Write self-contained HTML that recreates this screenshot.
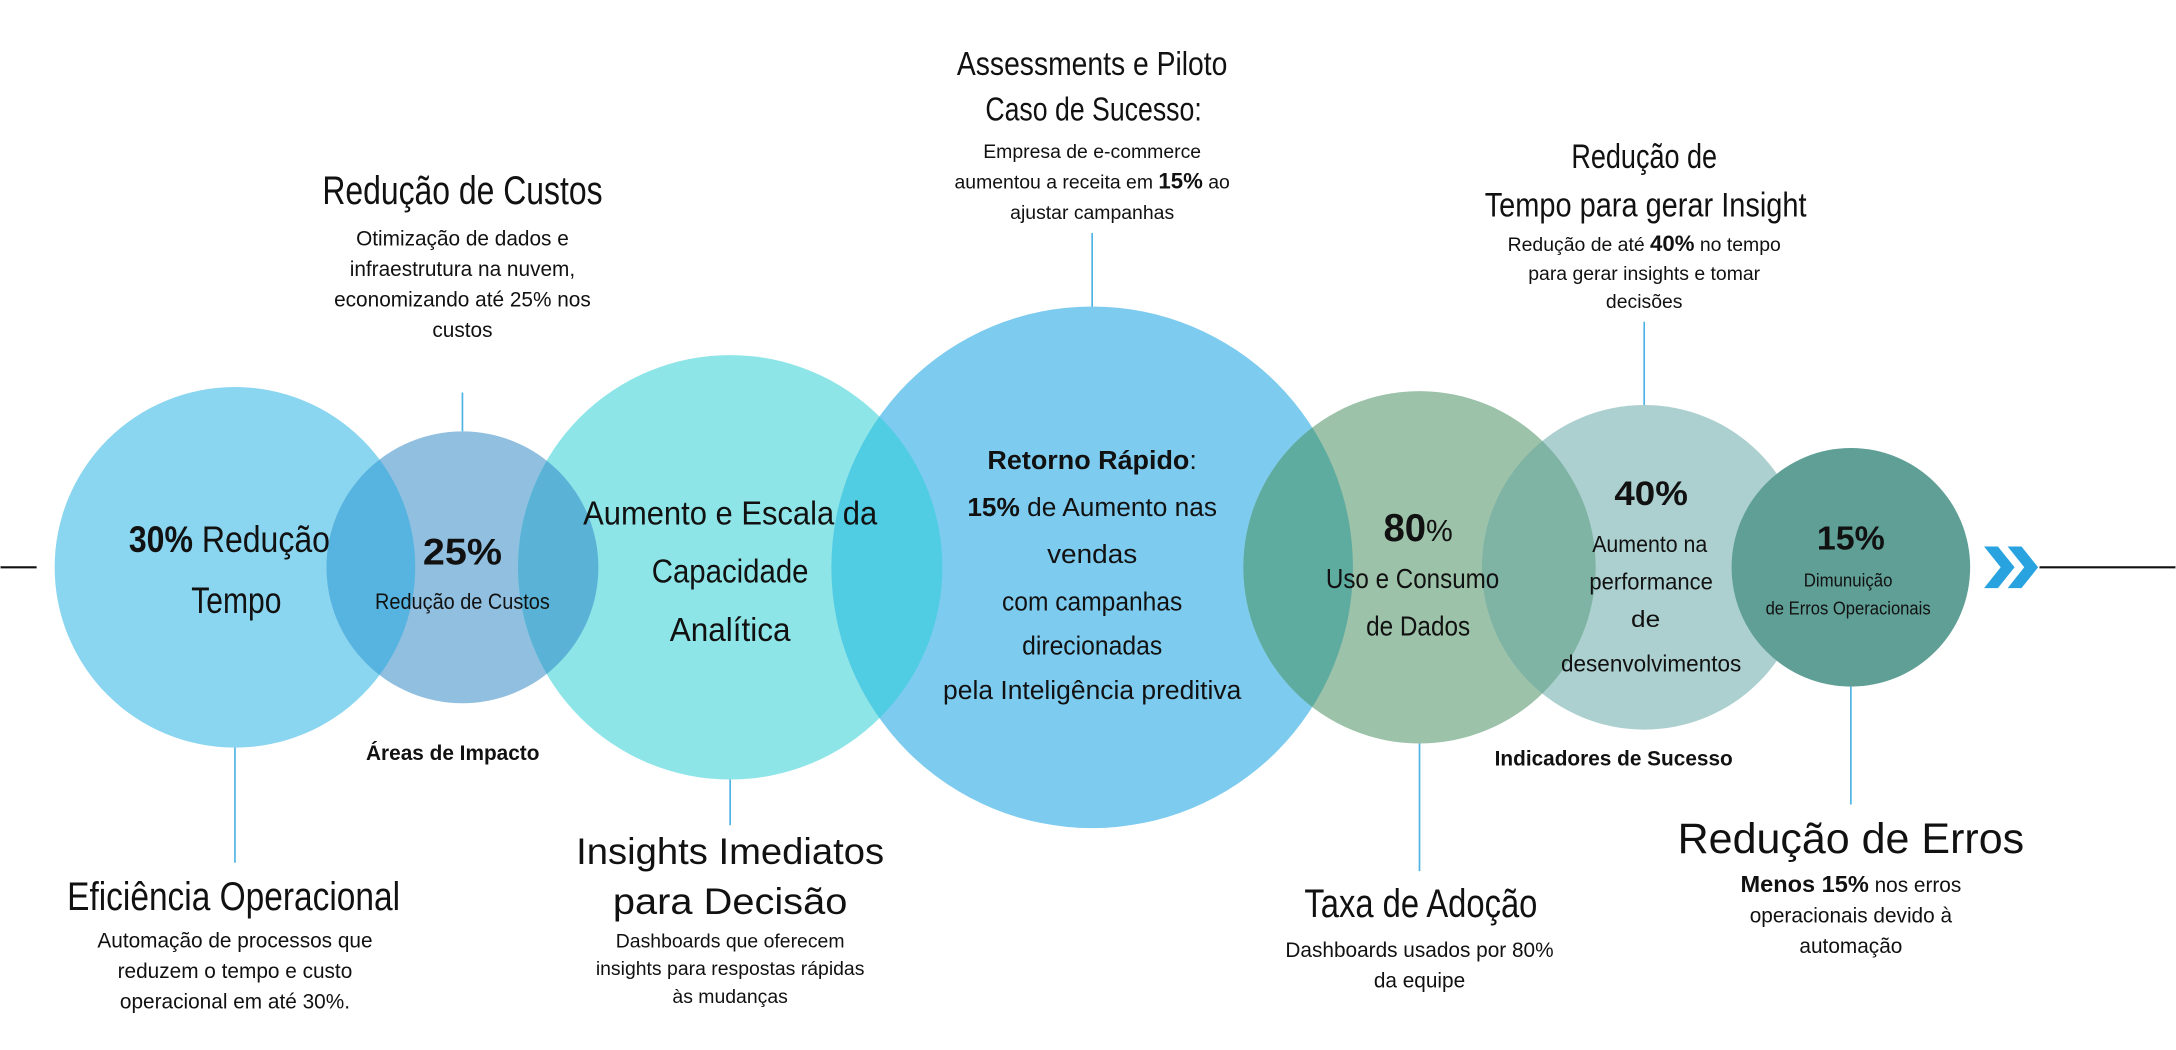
<!DOCTYPE html>
<html><head><meta charset="utf-8"><style>
html,body{margin:0;padding:0;background:#fff;width:2176px;height:1050px;overflow:hidden}
svg{display:block}
.t{font-family:"Liberation Sans",sans-serif;fill:#111}
.s{font-family:"Liberation Sans",sans-serif;fill:#111}
</style></head><body>
<svg width="2176" height="1050" viewBox="0 0 1568 757" xmlns="http://www.w3.org/2000/svg">
<defs>
<clipPath id="k1"><circle cx="169" cy="409" r="130"/></clipPath>
<clipPath id="k2"><circle cx="333" cy="409" r="98"/></clipPath>
<clipPath id="k3"><circle cx="526" cy="409" r="153"/></clipPath>
<clipPath id="k4"><circle cx="787" cy="409" r="188"/></clipPath>
<clipPath id="k5"><circle cx="1023" cy="409" r="127"/></clipPath>
<clipPath id="k6"><circle cx="1185" cy="409" r="117"/></clipPath>
</defs>
<line x1="0" y1="409" x2="26" y2="409" stroke="#111" stroke-width="1.5"/>
<line x1="1470" y1="409" x2="1568" y2="409" stroke="#111" stroke-width="1.5"/>
<g stroke="#4db3e3" stroke-width="1.2">
<line x1="333" y1="283" x2="333" y2="311"/>
<line x1="169" y1="539" x2="169" y2="622"/>
<line x1="526" y1="562" x2="526" y2="595"/>
<line x1="787" y1="168" x2="787" y2="221"/>
<line x1="1185" y1="232" x2="1185" y2="292"/>
<line x1="1023" y1="536" x2="1023" y2="628"/>
<line x1="1334" y1="495" x2="1334" y2="580"/>
</g>
<circle cx="169" cy="409" r="130" fill="#8ad5f0"/>
<circle cx="333" cy="409" r="98" fill="#91bfe0"/>
<circle cx="526" cy="409" r="153" fill="#8ee5e8"/>
<circle cx="787" cy="409" r="188" fill="#7dcbee"/>
<circle cx="1023" cy="409" r="127" fill="#9cc2a9"/>
<circle cx="1185" cy="409" r="117" fill="#acd0cf"/>
<circle cx="333" cy="409" r="98" fill="#57b4e0" clip-path="url(#k1)"/>
<circle cx="526" cy="409" r="153" fill="#5ab3d6" clip-path="url(#k2)"/>
<circle cx="787" cy="409" r="188" fill="#50cde3" clip-path="url(#k3)"/>
<circle cx="1023" cy="409" r="127" fill="#5eab9f" clip-path="url(#k4)"/>
<circle cx="1185" cy="409" r="117" fill="#7fb3a3" clip-path="url(#k5)"/>
<circle cx="1334" cy="409" r="86" fill="#5f9f96"/>
<g fill="#29a3e0">
<polygon points="1430,394 1440,394 1452,409 1440,424 1430,424 1442,409"/>
<polygon points="1447,394 1457,394 1469,409 1457,424 1447,424 1459,409"/>
</g>
<!-- circle texts -->
<text class="t" x="165" y="398" font-size="27" text-anchor="middle" textLength="145" lengthAdjust="spacingAndGlyphs"><tspan font-weight="bold">30%</tspan> Redução</text>
<text class="t" x="170" y="442" font-size="27" text-anchor="middle" textLength="65" lengthAdjust="spacingAndGlyphs">Tempo</text>
<text class="t" x="333" y="407" font-size="27" font-weight="bold" text-anchor="middle" textLength="57" lengthAdjust="spacingAndGlyphs">25%</text>
<text class="t" x="333" y="439" font-size="16" text-anchor="middle" textLength="126" lengthAdjust="spacingAndGlyphs">Redução de Custos</text>
<text class="t" x="526" y="378" font-size="24" text-anchor="middle" textLength="212" lengthAdjust="spacingAndGlyphs">Aumento e Escala da</text>
<text class="t" x="526" y="420" font-size="24" text-anchor="middle" textLength="113" lengthAdjust="spacingAndGlyphs">Capacidade</text>
<text class="t" x="526" y="462" font-size="24" text-anchor="middle" textLength="87" lengthAdjust="spacingAndGlyphs">Analítica</text>
<text class="t" x="787" y="338" font-size="19" font-weight="bold" text-anchor="middle" textLength="151" lengthAdjust="spacingAndGlyphs">Retorno Rápido<tspan font-weight="normal">:</tspan></text>
<text class="t" x="787" y="372" font-size="19" text-anchor="middle" textLength="180" lengthAdjust="spacingAndGlyphs"><tspan font-weight="bold">15%</tspan> de Aumento nas</text>
<text class="t" x="787" y="406" font-size="19" text-anchor="middle" textLength="65" lengthAdjust="spacingAndGlyphs">vendas</text>
<text class="t" x="787" y="440" font-size="19" text-anchor="middle" textLength="130" lengthAdjust="spacingAndGlyphs">com campanhas</text>
<text class="t" x="787" y="472" font-size="19" text-anchor="middle" textLength="101" lengthAdjust="spacingAndGlyphs">direcionadas</text>
<text class="t" x="787" y="504" font-size="19" text-anchor="middle" textLength="215" lengthAdjust="spacingAndGlyphs">pela Inteligência preditiva</text>
<text class="t" x="1022" y="390" font-size="28" font-weight="bold" text-anchor="middle" textLength="50" lengthAdjust="spacingAndGlyphs">80<tspan font-weight="normal" font-size="22">%</tspan></text>
<text class="t" x="1018" y="424" font-size="20" text-anchor="middle" textLength="125" lengthAdjust="spacingAndGlyphs">Uso e Consumo</text>
<text class="t" x="1022" y="458" font-size="20" text-anchor="middle" textLength="75" lengthAdjust="spacingAndGlyphs">de Dados</text>
<text class="t" x="1190" y="364" font-size="25" font-weight="bold" text-anchor="middle" textLength="53" lengthAdjust="spacingAndGlyphs">40%</text>
<text class="t" x="1189" y="398" font-size="17" text-anchor="middle" textLength="83" lengthAdjust="spacingAndGlyphs">Aumento na</text>
<text class="t" x="1190" y="425" font-size="17" text-anchor="middle" textLength="89" lengthAdjust="spacingAndGlyphs">performance</text>
<text class="t" x="1186" y="452" font-size="17" text-anchor="middle" textLength="21" lengthAdjust="spacingAndGlyphs">de</text>
<text class="t" x="1190" y="484" font-size="17" text-anchor="middle" textLength="130" lengthAdjust="spacingAndGlyphs">desenvolvimentos</text>
<text class="t" x="1334" y="396" font-size="24" font-weight="bold" text-anchor="middle" textLength="49" lengthAdjust="spacingAndGlyphs">15%</text>
<text class="t" x="1332" y="423" font-size="13" text-anchor="middle" textLength="64" lengthAdjust="spacingAndGlyphs">Dimunuição</text>
<text class="t" x="1332" y="443" font-size="13" text-anchor="middle" textLength="119" lengthAdjust="spacingAndGlyphs">de Erros Operacionais</text>
<text class="s" x="326" y="548" font-size="15" font-weight="bold" text-anchor="middle">Áreas de Impacto</text>
<text class="s" x="1163" y="552" font-size="15" font-weight="bold" text-anchor="middle">Indicadores de Sucesso</text>
<!-- outer labels -->
<text class="t" x="333" y="147" font-size="29" text-anchor="middle" textLength="202" lengthAdjust="spacingAndGlyphs">Redução de Custos</text>
<text class="s" x="333" y="177" font-size="15" text-anchor="middle">Otimização de dados e</text>
<text class="s" x="333" y="199" font-size="15" text-anchor="middle">infraestrutura na nuvem,</text>
<text class="s" x="333" y="221" font-size="15" text-anchor="middle">economizando até 25% nos</text>
<text class="s" x="333" y="243" font-size="15" text-anchor="middle">custos</text>
<text class="t" x="787" y="54" font-size="24" text-anchor="middle" textLength="195" lengthAdjust="spacingAndGlyphs">Assessments e Piloto</text>
<text class="t" x="788" y="87" font-size="24" text-anchor="middle" textLength="156" lengthAdjust="spacingAndGlyphs">Caso de Sucesso:</text>
<text class="s" x="787" y="114" font-size="14" text-anchor="middle">Empresa de e-commerce</text>
<text class="s" x="787" y="136" font-size="14" text-anchor="middle">aumentou a receita em <tspan font-weight="bold" font-size="16">15%</tspan> ao</text>
<text class="s" x="787" y="158" font-size="14" text-anchor="middle">ajustar campanhas</text>
<text class="t" x="1185" y="121" font-size="25" text-anchor="middle" textLength="105" lengthAdjust="spacingAndGlyphs">Redução de</text>
<text class="t" x="1186" y="156" font-size="25" text-anchor="middle" textLength="232" lengthAdjust="spacingAndGlyphs">Tempo para gerar Insight</text>
<text class="s" x="1185" y="181" font-size="14" text-anchor="middle">Redução de até <tspan font-weight="bold" font-size="16">40%</tspan> no tempo</text>
<text class="s" x="1185" y="202" font-size="14" text-anchor="middle">para gerar insights e tomar</text>
<text class="s" x="1185" y="222" font-size="14" text-anchor="middle">decisões</text>
<text class="t" x="168" y="656" font-size="29" text-anchor="middle" textLength="240" lengthAdjust="spacingAndGlyphs">Eficiência Operacional</text>
<text class="s" x="169" y="683" font-size="15" text-anchor="middle">Automação de processos que</text>
<text class="s" x="169" y="705" font-size="15" text-anchor="middle">reduzem o tempo e custo</text>
<text class="s" x="169" y="727" font-size="15" text-anchor="middle">operacional em até 30%.</text>
<text class="t" x="526" y="623" font-size="27" text-anchor="middle" textLength="222" lengthAdjust="spacingAndGlyphs">Insights Imediatos</text>
<text class="t" x="526" y="659" font-size="27" text-anchor="middle" textLength="169" lengthAdjust="spacingAndGlyphs">para Decisão</text>
<text class="s" x="526" y="683" font-size="14" text-anchor="middle">Dashboards que oferecem</text>
<text class="s" x="526" y="703" font-size="14" text-anchor="middle">insights para respostas rápidas</text>
<text class="s" x="526" y="723" font-size="14" text-anchor="middle">às mudanças</text>
<text class="t" x="1024" y="661" font-size="29" text-anchor="middle" textLength="168" lengthAdjust="spacingAndGlyphs">Taxa de Adoção</text>
<text class="s" x="1023" y="690" font-size="15" text-anchor="middle">Dashboards usados por 80%</text>
<text class="s" x="1023" y="712" font-size="15" text-anchor="middle">da equipe</text>
<text class="s" x="1334" y="615" font-size="31" text-anchor="middle">Redução de Erros</text>
<text class="s" x="1334" y="643" font-size="15" text-anchor="middle"><tspan font-weight="bold" font-size="17">Menos 15%</tspan> nos erros</text>
<text class="s" x="1334" y="665" font-size="15" text-anchor="middle">operacionais devido à</text>
<text class="s" x="1334" y="687" font-size="15" text-anchor="middle">automação</text>
</svg>
</body></html>
